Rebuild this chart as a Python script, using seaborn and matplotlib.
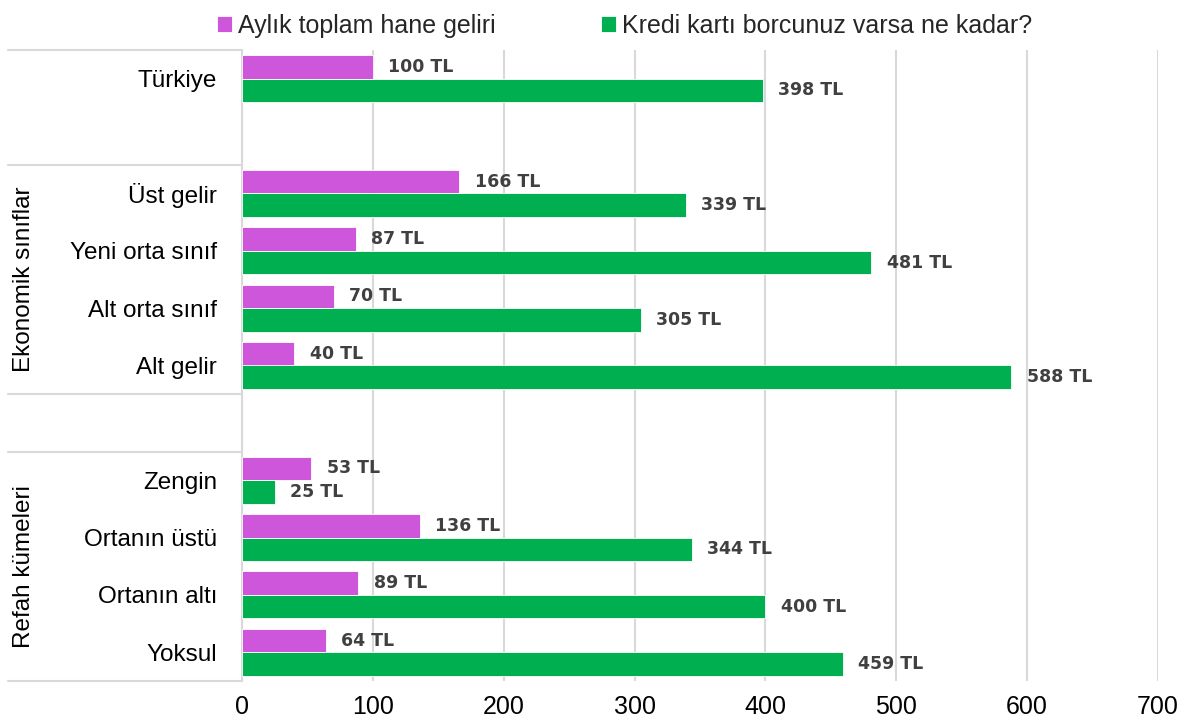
import numpy as np
import pandas as pd
import matplotlib.pyplot as plt
import matplotlib.transforms as mtransforms
import seaborn as sns

categories = ["Türkiye", " ", "Üst gelir", "Yeni orta sınıf", "Alt orta sınıf", "Alt gelir",
              "  ", "Zengin", "Ortanın üstü", "Ortanın altı", "Yoksul"]
rows = ["Türkiye", "Üst gelir", "Yeni orta sınıf", "Alt orta sınıf", "Alt gelir",
        "Zengin", "Ortanın üstü", "Ortanın altı", "Yoksul"]
income = [100, 166, 87, 70, 40, 53, 136, 89, 64]
debt = [398, 339, 481, 305, 588, 25, 344, 400, 459]
series = ["Aylık toplam hane geliri", "Kredi kartı borcunuz varsa ne kadar?"]
colors = ["#CE56DB", "#00B050"]
groups = [("Ekonomik sınıflar", 1.5, 5.5), ("Refah kümeleri", 6.5, 10.5)]
dividers = [-0.5, 1.5, 5.5, 6.5, 10.5]
xticks = [0, 100, 200, 300, 400, 500, 600, 700]

df = pd.DataFrame({
    "kategori": rows * 2,
    "seri": [series[0]] * len(rows) + [series[1]] * len(rows),
    "deger": income + debt,
})

sns.set_style("white")
plt.rcParams["font.family"] = ["Liberation Sans", "DejaVu Sans"]

fig = plt.figure(figsize=(11.96, 7.25), dpi=100)
ax = fig.add_axes([242 / 1196, 1 - 681 / 725, 916 / 1196, 631 / 725])

sns.barplot(data=df, x="deger", y="kategori", hue="seri", order=categories,
            hue_order=series, palette=colors, saturation=1, orient="h", width=0.82,
            gap=0, edgecolor="white", linewidth=0.6, ax=ax, zorder=3)

for cont in ax.containers:
    ax.bar_label(cont, fmt=lambda v: f"{v:.0f} TL", padding=11, fontsize=12.5,
                 fontweight="bold", color="#404040", family="DejaVu Sans")

ax.set_xlim(0, 700)
ax.set_ylim(10.5, -0.5)
ax.set_xticks(xticks)
ax.set_xlabel("")
ax.set_ylabel("")
ax.grid(axis="x", color="#D9D9D9", linewidth=1.5, zorder=0)
ax.grid(axis="y", visible=False)
for s in ["top", "right", "bottom"]:
    ax.spines[s].set_visible(False)
ax.spines["left"].set_color("#D9D9D9")
ax.spines["left"].set_linewidth(1.5)
ax.tick_params(axis="y", length=0, pad=18, labelsize=17.5, labelcolor="black")
ax.tick_params(axis="x", length=0, pad=10, labelsize=18, labelcolor="black")

# table lines and group labels on the left
trans = mtransforms.blended_transform_factory(ax.transAxes, ax.transData)
x_left = (8 - 242) / 916
for y in dividers:
    ax.plot([x_left, 0], [y, y], transform=trans, color="#D9D9D9", lw=1.5,
            clip_on=False, zorder=1)
for name, y0, y1 in groups:
    ax.text((24 - 242) / 916, (y0 + y1) / 2, name, transform=trans, rotation=90,
            ha="center", va="center", fontsize=17.5, color="black")

handles, labels = ax.get_legend_handles_labels()
ax.get_legend().remove()
fig.legend(handles, labels, loc="upper center", bbox_to_anchor=(0.522, 1.012),
           ncol=2, frameon=False, fontsize=18, handlelength=0.6, handleheight=0.6,
           handletextpad=0.25, columnspacing=4.2)

fig.savefig("out.png", dpi=100)
